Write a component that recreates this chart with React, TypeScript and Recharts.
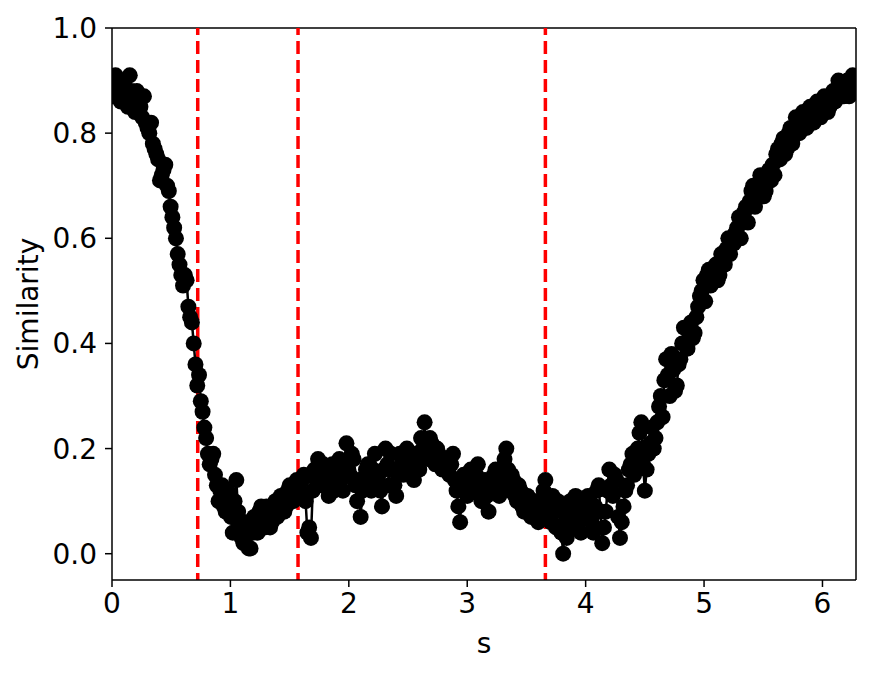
import React from 'react';
import {
  ComposedChart,
  Line,
  XAxis,
  YAxis,
  ReferenceLine,
} from 'recharts';

// s positions of the samples
const sValues = [
  0.0, 0.015, 0.03, 0.045, 0.06, 0.075, 0.09, 0.105, 0.12, 0.135,
  0.15, 0.165, 0.18, 0.195, 0.21, 0.225, 0.24, 0.255, 0.27, 0.285,
  0.3, 0.315, 0.33, 0.345, 0.36, 0.375, 0.39, 0.405, 0.42, 0.435,
  0.45, 0.465, 0.48, 0.495, 0.51, 0.525, 0.54, 0.555, 0.57, 0.585,
  0.6, 0.615, 0.63, 0.645, 0.66, 0.675, 0.69, 0.705, 0.72, 0.735,
  0.75, 0.765, 0.78, 0.795, 0.81, 0.825, 0.84, 0.855, 0.87, 0.885,
  0.9, 0.915, 0.93, 0.945, 0.96, 0.975, 0.99, 1.005, 1.02, 1.035,
  1.05, 1.065, 1.08, 1.095, 1.11, 1.125, 1.14, 1.155, 1.17, 1.185,
  1.2, 1.215, 1.23, 1.245, 1.26, 1.275, 1.29, 1.305, 1.32, 1.335,
  1.35, 1.365, 1.38, 1.395, 1.41, 1.425, 1.44, 1.455, 1.47, 1.485,
  1.5, 1.515, 1.53, 1.545, 1.56, 1.575, 1.59, 1.605, 1.62, 1.635,
  1.65, 1.665, 1.68, 1.695, 1.71, 1.725, 1.74, 1.755, 1.77, 1.785,
  1.8, 1.815, 1.83, 1.845, 1.86, 1.875, 1.89, 1.905, 1.92, 1.935,
  1.95, 1.965, 1.98, 1.995, 2.01, 2.025, 2.04, 2.055, 2.07, 2.085,
  2.1, 2.115, 2.13, 2.145, 2.16, 2.175, 2.19, 2.205, 2.22, 2.235,
  2.25, 2.265, 2.28, 2.295, 2.31, 2.325, 2.34, 2.355, 2.37, 2.385,
  2.4, 2.415, 2.43, 2.445, 2.46, 2.475, 2.49, 2.505, 2.52, 2.535,
  2.55, 2.565, 2.58, 2.595, 2.61, 2.625, 2.64, 2.655, 2.67, 2.685,
  2.7, 2.715, 2.73, 2.745, 2.76, 2.775, 2.79, 2.805, 2.82, 2.835,
  2.85, 2.865, 2.88, 2.895, 2.91, 2.925, 2.94, 2.955, 2.97, 2.985,
  3.0, 3.015, 3.03, 3.045, 3.06, 3.075, 3.09, 3.105, 3.12, 3.135,
  3.15, 3.165, 3.18, 3.195, 3.21, 3.225, 3.24, 3.255, 3.27, 3.285,
  3.3, 3.315, 3.33, 3.345, 3.36, 3.375, 3.39, 3.405, 3.42, 3.435,
  3.45, 3.465, 3.48, 3.495, 3.51, 3.525, 3.54, 3.555, 3.57, 3.585,
  3.6, 3.615, 3.63, 3.645, 3.66, 3.675, 3.69, 3.705, 3.72, 3.735,
  3.75, 3.765, 3.78, 3.795, 3.81, 3.825, 3.84, 3.855, 3.87, 3.885,
  3.9, 3.915, 3.93, 3.945, 3.96, 3.975, 3.99, 4.005, 4.02, 4.035,
  4.05, 4.065, 4.08, 4.095, 4.11, 4.125, 4.14, 4.155, 4.17, 4.185,
  4.2, 4.215, 4.23, 4.245, 4.26, 4.275, 4.29, 4.305, 4.32, 4.335,
  4.35, 4.365, 4.38, 4.395, 4.41, 4.425, 4.44, 4.455, 4.47, 4.485,
  4.5, 4.515, 4.53, 4.545, 4.56, 4.575, 4.59, 4.605, 4.62, 4.635,
  4.65, 4.665, 4.68, 4.695, 4.71, 4.725, 4.74, 4.755, 4.77, 4.785,
  4.8, 4.815, 4.83, 4.845, 4.86, 4.875, 4.89, 4.905, 4.92, 4.935,
  4.95, 4.965, 4.98, 4.995, 5.01, 5.025, 5.04, 5.055, 5.07, 5.085,
  5.1, 5.115, 5.13, 5.145, 5.16, 5.175, 5.19, 5.205, 5.22, 5.235,
  5.25, 5.265, 5.28, 5.295, 5.31, 5.325, 5.34, 5.355, 5.37, 5.385,
  5.4, 5.415, 5.43, 5.445, 5.46, 5.475, 5.49, 5.505, 5.52, 5.535,
  5.55, 5.565, 5.58, 5.595, 5.61, 5.625, 5.64, 5.655, 5.67, 5.685,
  5.7, 5.715, 5.73, 5.745, 5.76, 5.775, 5.79, 5.805, 5.82, 5.835,
  5.85, 5.865, 5.88, 5.895, 5.91, 5.925, 5.94, 5.955, 5.97, 5.985,
  6.0, 6.015, 6.03, 6.045, 6.06, 6.075, 6.09, 6.105, 6.12, 6.135,
  6.15, 6.165, 6.18, 6.195, 6.21, 6.225, 6.24, 6.255, 6.27, 6.283,
];

// similarity
const similarity = [
  0.89, 0.87, 0.91, 0.89, 0.88, 0.86, 0.9, 0.88, 0.87, 0.85,
  0.91, 0.88, 0.86, 0.84, 0.88, 0.86, 0.85, 0.83, 0.87, 0.82,
  0.81, 0.8, 0.82, 0.78, 0.77, 0.76, 0.75, 0.71, 0.72, 0.73,
  0.74, 0.7, 0.69, 0.66, 0.64, 0.62, 0.6, 0.57, 0.55, 0.53,
  0.51, 0.53, 0.52, 0.47, 0.45, 0.44, 0.4, 0.36, 0.32, 0.34,
  0.29, 0.27, 0.24, 0.22, 0.19, 0.17, 0.18, 0.19, 0.15, 0.13,
  0.1, 0.12, 0.13, 0.09, 0.08, 0.12, 0.11, 0.07, 0.04, 0.1,
  0.14, 0.08, 0.06, 0.03, 0.02, 0.06, 0.05, 0.01, 0.01, 0.04,
  0.07, 0.05, 0.04, 0.08, 0.09, 0.06, 0.05, 0.09, 0.08, 0.05,
  0.06, 0.09, 0.1, 0.07, 0.08, 0.11, 0.11, 0.08, 0.09, 0.12,
  0.13, 0.11, 0.1, 0.13, 0.14, 0.11, 0.12, 0.14, 0.15, 0.1,
  0.04, 0.05, 0.03, 0.12, 0.16, 0.14, 0.18, 0.15, 0.13, 0.17,
  0.16, 0.14, 0.11, 0.15, 0.17, 0.12, 0.13, 0.16, 0.18, 0.14,
  0.12, 0.17, 0.21, 0.16, 0.15, 0.19, 0.18, 0.13, 0.1, 0.14,
  0.07, 0.12, 0.14, 0.16, 0.17, 0.13, 0.12, 0.16, 0.19, 0.14,
  0.15, 0.12, 0.09, 0.16, 0.2, 0.17, 0.13, 0.19, 0.16, 0.13,
  0.11, 0.15, 0.19, 0.17, 0.15, 0.18, 0.2, 0.16, 0.17, 0.19,
  0.14, 0.17, 0.19, 0.16, 0.22, 0.2, 0.25, 0.19, 0.18, 0.22,
  0.21, 0.18, 0.17, 0.2, 0.19, 0.17, 0.16, 0.18, 0.18, 0.16,
  0.15, 0.17, 0.19, 0.14, 0.12, 0.09, 0.06, 0.13, 0.15, 0.12,
  0.11, 0.14, 0.16, 0.12, 0.13, 0.15, 0.17, 0.13, 0.1, 0.12,
  0.14, 0.11, 0.08, 0.12, 0.13, 0.15, 0.16, 0.13, 0.11, 0.14,
  0.15, 0.18, 0.2, 0.16, 0.12, 0.15, 0.14, 0.11, 0.1, 0.13,
  0.12, 0.09, 0.08, 0.11, 0.11, 0.09, 0.07, 0.1, 0.1, 0.08,
  0.06, 0.1, 0.09, 0.12, 0.14, 0.1, 0.08, 0.06, 0.11, 0.08,
  0.05, 0.1, 0.09, 0.04, 0.0, 0.06, 0.03, 0.07, 0.1, 0.08,
  0.05, 0.11, 0.09, 0.06, 0.04, 0.08, 0.07, 0.1, 0.11, 0.08,
  0.06, 0.04, 0.09, 0.12, 0.13, 0.08, 0.02, 0.05, 0.08, 0.12,
  0.16, 0.13, 0.11, 0.15, 0.14, 0.07, 0.03, 0.06, 0.09, 0.12,
  0.13, 0.16, 0.17, 0.19, 0.15, 0.18, 0.2, 0.23, 0.25, 0.17,
  0.12, 0.16, 0.19, 0.21, 0.24, 0.2, 0.22, 0.25, 0.28, 0.3,
  0.26, 0.33, 0.37, 0.34, 0.3, 0.38, 0.35, 0.31, 0.32, 0.36,
  0.37, 0.4, 0.43, 0.4, 0.39, 0.41, 0.44, 0.41, 0.42, 0.45,
  0.47, 0.49, 0.5, 0.52, 0.48, 0.53, 0.54, 0.51, 0.52, 0.54,
  0.55, 0.52, 0.53, 0.57, 0.56, 0.55, 0.58, 0.6, 0.57, 0.6,
  0.59, 0.61, 0.62, 0.64, 0.6, 0.63, 0.65, 0.66, 0.63, 0.67,
  0.69, 0.7, 0.66, 0.68, 0.7, 0.72, 0.71, 0.68, 0.69, 0.72,
  0.73, 0.71, 0.74, 0.72, 0.76, 0.77, 0.75, 0.78, 0.79, 0.76,
  0.77, 0.8, 0.81, 0.78, 0.8, 0.83, 0.82, 0.8, 0.81, 0.84,
  0.83, 0.81, 0.82, 0.85, 0.84, 0.82, 0.83, 0.86, 0.85, 0.83,
  0.84, 0.87, 0.86, 0.84, 0.85, 0.87, 0.88, 0.86, 0.87, 0.9,
  0.89, 0.87, 0.87, 0.89, 0.9, 0.87, 0.88, 0.91, 0.9, 0.88,
];

const markerLines = [0.724, 1.571, 3.66];
const xTicks = [0, 1, 2, 3, 4, 5, 6];
const yTicks = [0, 0.2, 0.4, 0.6, 0.8, 1.0];

const X_MAX = 2 * Math.PI;
const FONT = 'DejaVu Sans, sans-serif';

const data = sValues.map((s, i) => ({ s, sim: similarity[i] }));

export default function App() {
  return (
    <div style={{ position: 'absolute', left: 0, top: 0, background: '#fff' }}>
      <ComposedChart
        width={872}
        height={675}
        data={data}
        margin={{ top: 28, right: 16, bottom: 0, left: 0 }}
      >
        <XAxis
          type="number"
          dataKey="s"
          domain={[0, X_MAX]}
          ticks={xTicks}
          allowDataOverflow
          height={95}
          stroke="#000"
          strokeWidth={1.5}
          tickSize={7}
          tickMargin={6}
          tick={{ fill: '#000', fontSize: 28, fontFamily: FONT }}
          label={{ value: 's', position: 'center', dy: 16, fill: '#000', fontSize: 28, fontFamily: FONT }}
        />
        <YAxis
          type="number"
          domain={[-0.05, 1.0]}
          ticks={yTicks}
          allowDataOverflow
          width={112}
          stroke="#000"
          strokeWidth={1.5}
          tickSize={7}
          tickMargin={8}
          tickFormatter={(v: number) => v.toFixed(1)}
          tick={{ fill: '#000', fontSize: 28, fontFamily: FONT }}
          label={{ value: 'Similarity', angle: -90, position: 'center', dx: -28, fill: '#000', fontSize: 28, fontFamily: FONT }}
        />
        <ReferenceLine y={1.0} stroke="#000" strokeWidth={1.5} />
        <ReferenceLine x={X_MAX} stroke="#000" strokeWidth={1.5} />
        <Line
          type="linear"
          dataKey="sim"
          stroke="#000"
          strokeWidth={2.5}
          dot={{ r: 8, fill: '#000', stroke: '#000', strokeWidth: 0 }}
          activeDot={false}
          isAnimationActive={false}
        />
        {markerLines.map((x) => (
          <ReferenceLine
            key={x}
            x={x}
            stroke="#ff0000"
            strokeWidth={3.5}
            strokeDasharray="13 6"
            strokeDashoffset={6}
          />
        ))}
      </ComposedChart>
    </div>
  );
}
